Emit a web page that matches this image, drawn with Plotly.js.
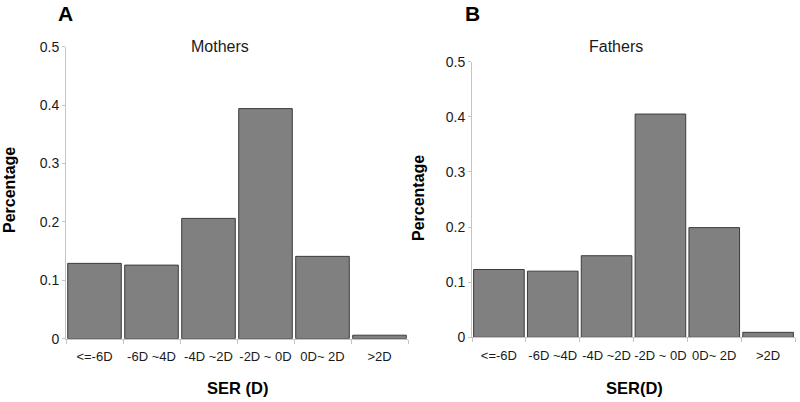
<!DOCTYPE html>
<html>
<head>
<meta charset="utf-8">
<script src="https://cdn.plot.ly/plotly-3.0.1.min.js"></script>
<style>html,body{margin:0;padding:0;background:#fff;}#chart{width:800px;height:402px;}</style>
</head>
<body>
<div id="chart"></div>
<script>
var categories = ["<=-6D", "-6D ~4D", "-4D ~2D", "-2D ~ 0D", "0D~ 2D", ">2D"];
var mothersValues = [0.129, 0.126, 0.206, 0.394, 0.141, 0.006];
var fathersValues = [0.123, 0.120, 0.148, 0.405, 0.199, 0.009];
var yTickVals = [0, 0.1, 0.2, 0.3, 0.4, 0.5];
var yTickText = ["0", "0.1", "0.2", "0.3", "0.4", "0.5"];

var barStyle = {color: "#808080", line: {color: "#3c3c3c", width: 1}};

var data = [
  {type: "bar", x: categories, y: mothersValues, xaxis: "x", yaxis: "y", marker: barStyle, hoverinfo: "x+y"},
  {type: "bar", x: categories, y: fathersValues, xaxis: "x2", yaxis: "y2", marker: barStyle, hoverinfo: "x+y"}
];

var font = "Arial, 'Liberation Sans', sans-serif";
function xax(domain, anchor) {
  return {
    domain: domain, anchor: anchor, type: "category",
    showline: true, linecolor: "#c4c4c4", linewidth: 1,
    ticks: "outside", tickson: "boundaries", ticklen: 4, tickcolor: "#c4c4c4",
    tickangle: 0, ticklabelstandoff: 6,
    showgrid: false, zeroline: false,
    tickfont: {family: font, size: 13, color: "#1a1a1a"},
    fixedrange: true
  };
}
function yax(domain, anchor) {
  return {
    domain: domain, anchor: anchor, range: [0, 0.5],
    tickvals: yTickVals, ticktext: yTickText,
    showline: true, linecolor: "#c4c4c4", linewidth: 1,
    ticks: "outside", ticklen: 3, tickcolor: "#c4c4c4",
    showgrid: false, zeroline: false,
    tickfont: {family: font, size: 14, color: "#1a1a1a"},
    fixedrange: true
  };
}

var layout = {
  width: 800, height: 402,
  margin: {l: 0, r: 0, t: 0, b: 0},
  paper_bgcolor: "#fff", plot_bgcolor: "#fff",
  showlegend: false, bargap: 0.06,
  xaxis: xax([66/800, 408/800], "y"),
  yaxis: yax([63.3/402, 355.3/402], "x"),
  xaxis2: xax([472/800, 795/800], "y2"),
  yaxis2: yax([64.7/402, 340.3/402], "x2"),
  annotations: [
    {text: "<b>A</b>", x: 65/800, y: 1 - 13/402, xref: "paper", yref: "paper", xanchor: "center", yanchor: "middle", showarrow: false, font: {family: font, size: 21, color: "#000"}},
    {text: "<b>B</b>", x: 472/800, y: 1 - 13/402, xref: "paper", yref: "paper", xanchor: "center", yanchor: "middle", showarrow: false, font: {family: font, size: 21, color: "#000"}},
    {text: "Mothers", x: 220/800, y: 1 - 46/402, xref: "paper", yref: "paper", xanchor: "center", yanchor: "middle", showarrow: false, font: {family: font, size: 16, color: "#1a1a1a"}},
    {text: "Fathers", x: 616/800, y: 1 - 46/402, xref: "paper", yref: "paper", xanchor: "center", yanchor: "middle", showarrow: false, font: {family: font, size: 16, color: "#1a1a1a"}},
    {text: "<b>Percentage</b>", x: 10/800, y: 1 - 190/402, xref: "paper", yref: "paper", xanchor: "center", yanchor: "middle", textangle: -90, showarrow: false, font: {family: font, size: 16, color: "#000"}},
    {text: "<b>Percentage</b>", x: 418/800, y: 1 - 198/402, xref: "paper", yref: "paper", xanchor: "center", yanchor: "middle", textangle: -90, showarrow: false, font: {family: font, size: 16, color: "#000"}},
    {text: "<b>SER (D)</b>", x: 237/800, y: 1 - 388/402, xref: "paper", yref: "paper", xanchor: "center", yanchor: "middle", showarrow: false, font: {family: font, size: 16.5, color: "#000"}},
    {text: "<b>SER(D)</b>", x: 634/800, y: 1 - 388/402, xref: "paper", yref: "paper", xanchor: "center", yanchor: "middle", showarrow: false, font: {family: font, size: 16.5, color: "#000"}}
  ]
};

Plotly.newPlot("chart", data, layout, {displayModeBar: false, staticPlot: true});
</script>
</body>
</html>
